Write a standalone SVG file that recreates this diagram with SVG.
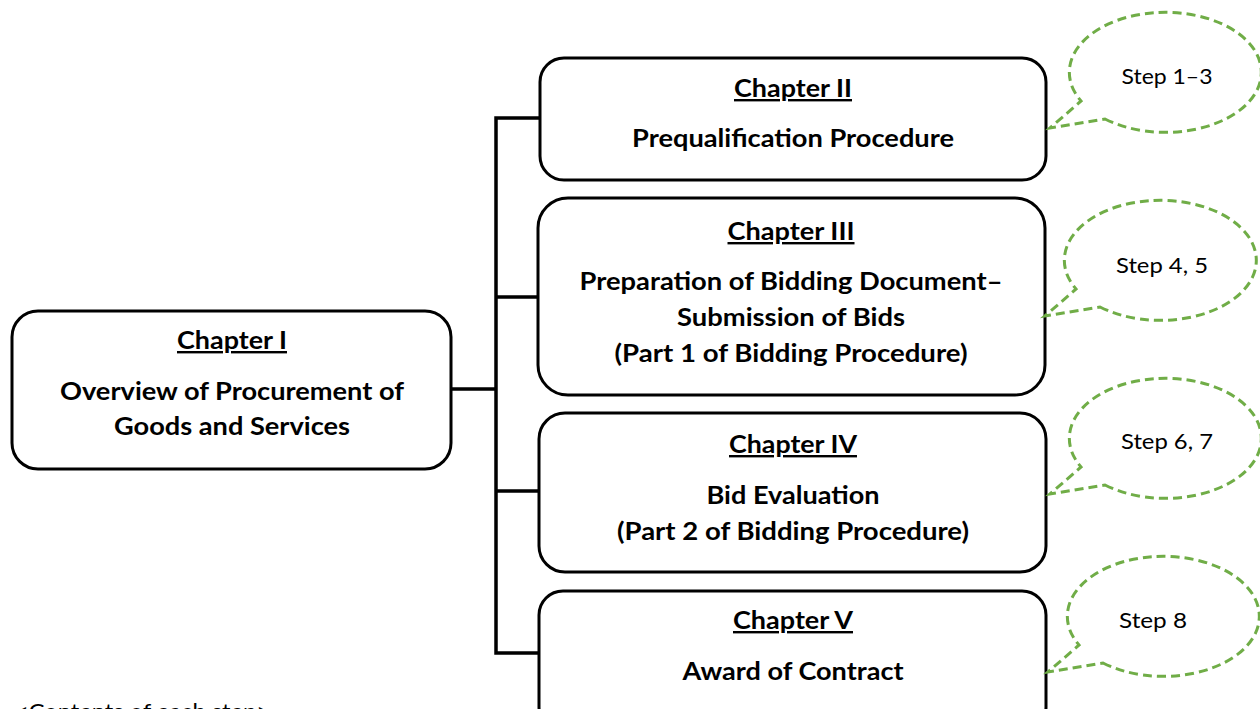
<svg xmlns="http://www.w3.org/2000/svg" width="1260" height="709" viewBox="0 0 1260 709">
<style>
.box{fill:#fff;stroke:#000;stroke-width:3}
.conn{fill:none;stroke:#000;stroke-width:3.5;stroke-linejoin:miter}
.t{font-family:Lato,"Liberation Sans",sans-serif;font-weight:bold;font-size:24px;fill:#000;text-anchor:middle}
.u{text-decoration:underline}
.s{font-family:Lato,"Liberation Sans",sans-serif;font-size:21px;fill:#000;text-anchor:middle}
.call{fill:#fff;stroke:#70AD47;stroke-width:3;stroke-dasharray:9 5}
.note{font-family:Lato,"Liberation Sans",sans-serif;font-size:22px;fill:#000}
</style>
<defs>
<path id="bubble" class="call" d="M -63 44 A 96 60 0 1 0 -87 26 L -118 53 Z"/>
</defs>
<rect width="1260" height="709" fill="#fff"/>
<g id="connectors">
<path class="conn" d="M451 389 H496 M540 118 H496 V653 H540 M496 297 H538 M496 491 H539"/>
</g>
<g id="ch1">
<rect class="box" x="12" y="311" width="439" height="158" rx="26"/>
<text class="t u" x="232" y="349" textLength="110" lengthAdjust="spacingAndGlyphs">Chapter I</text>
<text class="t" x="232" y="400" textLength="344" lengthAdjust="spacingAndGlyphs">Overview of Procurement of</text>
<text class="t" x="232" y="435" textLength="236" lengthAdjust="spacingAndGlyphs">Goods and Services</text>
</g>
<g id="ch2">
<rect class="box" x="540" y="58" width="506" height="122" rx="24"/>
<text class="t u" x="793" y="97" textLength="118" lengthAdjust="spacingAndGlyphs">Chapter II</text>
<text class="t" x="793" y="147" textLength="322" lengthAdjust="spacingAndGlyphs">Prequalification Procedure</text>
</g>
<g id="ch3">
<rect class="box" x="538" y="198" width="507" height="197" rx="30"/>
<text class="t u" x="791" y="240" textLength="127" lengthAdjust="spacingAndGlyphs">Chapter III</text>
<text class="t" x="791" y="290" textLength="423" lengthAdjust="spacingAndGlyphs">Preparation of Bidding Document–</text>
<text class="t" x="791" y="326" textLength="228" lengthAdjust="spacingAndGlyphs">Submission of Bids</text>
<text class="t" x="791" y="362" textLength="353" lengthAdjust="spacingAndGlyphs">(Part 1 of Bidding Procedure)</text>
</g>
<g id="ch4">
<rect class="box" x="539" y="413" width="507" height="159" rx="26"/>
<text class="t u" x="793" y="453" textLength="128" lengthAdjust="spacingAndGlyphs">Chapter IV</text>
<text class="t" x="793" y="504" textLength="173" lengthAdjust="spacingAndGlyphs">Bid Evaluation</text>
<text class="t" x="793" y="540" textLength="352" lengthAdjust="spacingAndGlyphs">(Part 2 of Bidding Procedure)</text>
</g>
<g id="ch5">
<rect class="box" x="539" y="591" width="507" height="140" rx="24"/>
<text class="t u" x="793" y="629" textLength="120" lengthAdjust="spacingAndGlyphs">Chapter V</text>
<text class="t" x="793" y="680" textLength="221" lengthAdjust="spacingAndGlyphs">Award of Contract</text>
</g>
<g id="step1">
<use href="#bubble" transform="translate(1168 75)"/>
<text class="s" x="1167" y="84" textLength="91" lengthAdjust="spacingAndGlyphs">Step 1–3</text>
</g>
<g id="step2">
<use href="#bubble" transform="translate(1163 263)"/>
<text class="s" x="1162" y="273" textLength="92" lengthAdjust="spacingAndGlyphs">Step 4, 5</text>
</g>
<g id="step3">
<use href="#bubble" transform="translate(1168 441)"/>
<text class="s" x="1167" y="449" textLength="92" lengthAdjust="spacingAndGlyphs">Step 6, 7</text>
</g>
<g id="step4">
<use href="#bubble" transform="translate(1166 619)"/>
<text class="s" x="1153" y="628" textLength="68" lengthAdjust="spacingAndGlyphs">Step 8</text>
</g>
<text class="note" x="15" y="719" textLength="255" lengthAdjust="spacingAndGlyphs">&lt;Contents of each step&gt;</text>
</svg>
